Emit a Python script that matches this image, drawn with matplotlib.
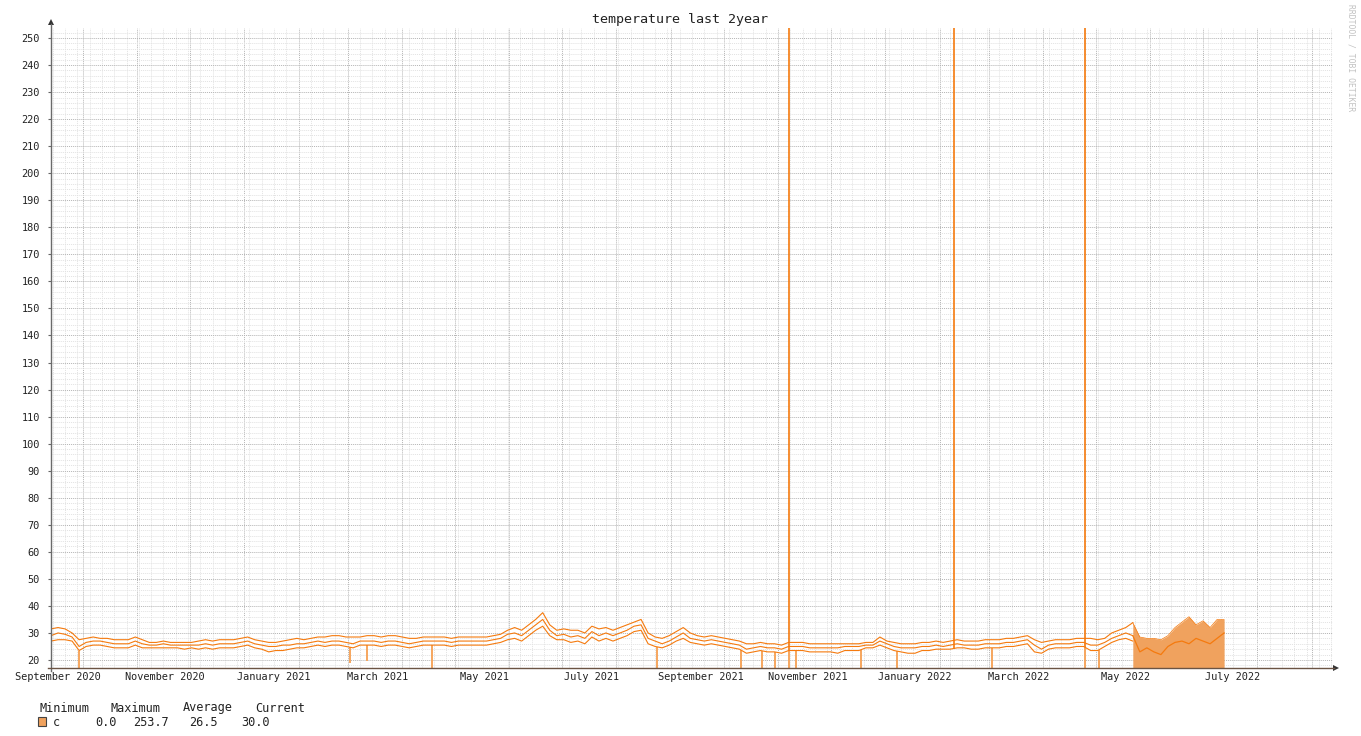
import numpy as np
import matplotlib
matplotlib.use("Agg")
import matplotlib.pyplot as plt
import matplotlib.dates as mdates
from matplotlib.lines import Line2D
from matplotlib.patches import Polygon, Rectangle

# ---------------- data ----------------
title = "temperature last 2year"
series_start = "2020-09-13"      # first sample, 4-day spacing
step_days = 4

mid = [29, 30, 29.5, 28.5, 25, 26.5, 27, 27, 26.5, 26,
       26, 26, 27, 26, 25.5, 25.5, 26, 25.5, 25.5, 25.5,
       25.5, 25.5, 26, 25.5, 26, 26, 26, 26.5, 27, 26,
       25.5, 25, 25, 25.5, 25.5, 26, 26, 26.5, 27, 26.5,
       27, 27, 26.5, 26, 27, 27, 27, 26.5, 27, 27,
       26.5, 26, 26.5, 27, 27, 27, 27, 26.5, 27, 27,
       27, 27, 27, 27.5, 28, 29.5, 30, 29, 31, 33,
       35, 31, 29, 29.5, 28.5, 29, 28, 30.5, 29, 30,
       29, 30, 31, 32.5, 33, 28, 27, 26, 27, 28.5,
       30, 28, 27.5, 27, 27.5, 27, 26.5, 26, 25.5, 24,
       24.5, 25, 24.5, 24.5, 24, 25, 25, 25, 24.5, 24.5,
       24.5, 24.5, 24.5, 25, 25, 25, 25.5, 25.5, 27, 26,
       25, 24.5, 24.5, 24.5, 25, 25, 25.5, 25, 25.5, 26,
       25.5, 25.5, 25.5, 26, 26, 26, 26.5, 26.5, 27, 27.5,
       25.5, 24, 25.5, 26, 26, 26, 26.5, 26.5, 25.5, 25.5,
       26.5, 28, 29, 30, 29, 23, 24.5, 23, 22, 25,
       26.5, 27, 26, 28, 27, 26, 28, 30]

upper = [31.5, 32, 31.5, 30, 27.5, 28, 28.5, 28, 28, 27.5,
         27.5, 27.5, 28.5, 27.5, 26.5, 26.5, 27, 26.5, 26.5, 26.5,
         26.5, 27, 27.5, 27, 27.5, 27.5, 27.5, 28, 28.5, 27.5,
         27, 26.5, 26.5, 27, 27.5, 28, 27.5, 28, 28.5, 28.5,
         29, 29, 28.5, 28.5, 28.5, 29, 29, 28.5, 29, 29,
         28.5, 28, 28, 28.5, 28.5, 28.5, 28.5, 28, 28.5, 28.5,
         28.5, 28.5, 28.5, 29, 29.5, 31, 32, 31, 33, 35,
         37.5, 33, 31, 31.5, 31, 31, 30, 32.5, 31.5, 32,
         31, 32, 33, 34, 35, 30, 28.5, 28, 29, 30.5,
         32, 30, 29, 28.5, 29, 28.5, 28, 27.5, 27, 26,
         26, 26.5, 26, 26, 25.5, 26.5, 26.5, 26.5, 26, 26,
         26, 26, 26, 26, 26, 26, 26.5, 26.5, 28.5, 27,
         26.5, 26, 26, 26, 26.5, 26.5, 27, 26.5, 27, 27.5,
         27, 27, 27, 27.5, 27.5, 27.5, 28, 28, 28.5, 29,
         27.5, 26.5, 27, 27.5, 27.5, 27.5, 28, 28, 28, 27.5,
         28, 30, 31, 32, 33.8, 28.5, 28, 28, 27.5, 29,
         32, 34, 36, 33, 34.5, 32, 35, 35]

lower = [27, 27.5, 27.5, 27, 23.5, 25, 25.5, 25.5, 25, 24.5,
         24.5, 24.5, 25.5, 24.5, 24.5, 24.5, 24.5, 24.5, 24.5, 24,
         24.5, 24, 24.5, 24, 24.5, 24.5, 24.5, 25, 25.5, 24.5,
         24, 23, 23.5, 23.5, 24, 24.5, 24.5, 25, 25.5, 25,
         25.5, 25.5, 25, 24.5, 25.5, 25.5, 25.5, 25, 25.5, 25.5,
         25, 24.5, 25, 25.5, 25.5, 25.5, 25.5, 25, 25.5, 25.5,
         25.5, 25.5, 25.5, 26, 26.5, 27.5, 28, 27, 29, 31,
         32.5, 29, 27.5, 27.5, 26.5, 27, 26, 28.5, 27, 28,
         27, 28, 29, 30.5, 31, 26, 25, 24.5, 25.5, 27,
         28, 26.5, 26, 25.5, 26, 25.5, 25, 24.5, 24, 22.5,
         23, 23.5, 23, 23, 22.5, 23.5, 23.5, 23.5, 23, 23,
         23, 23, 22.5, 23.5, 23.5, 23.5, 24.5, 24.5, 25.5, 24.5,
         23.5, 23, 22.5, 22.5, 23.5, 23.5, 24, 24, 24, 24.5,
         24.5, 24, 24, 24.5, 24.5, 24.5, 25, 25, 25.5, 26,
         23, 22.5, 24, 24.5, 24.5, 24.5, 25, 25, 23.5, 23.5,
         25, 26.5, 27.5, 28, 27, 21, 22.5, 21.5, 21, 22.5,
         23.5, 25, 25, 25, 26, 24.5, 26, 28]

area_from_index = 154          # samples drawn as filled area from here on

spike_dates = ["2021-11-07", "2022-02-09", "2022-04-25"]
spike_values = [253.7, 253.7, 253.7]

dip_dates = ["2020-09-29", "2021-03-02", "2021-03-12", "2021-04-18", "2021-08-24",
             "2021-10-11", "2021-10-23", "2021-10-30", "2021-11-07", "2021-11-11",
             "2021-12-18", "2022-01-08", "2022-03-03", "2022-04-25", "2022-05-03"]
dip_values = [0, 19, 19.5, 0, 0, 0, 0, 0, 0, 0, 0, 0, 0, 0, 0]

x_start, x_end = "2020-09-13", "2022-09-13"
y_min, y_max = 17.04, 253.7
label_months = ["2020-09-17", "2020-11-17", "2021-01-18", "2021-03-18", "2021-05-18",
                "2021-07-18", "2021-09-18", "2021-11-18", "2022-01-18", "2022-03-18",
                "2022-05-18", "2022-07-18"]
label_texts = ["September 2020", "November 2020", "January 2021", "March 2021",
               "May 2021", "July 2021", "September 2021", "November 2021",
               "January 2022", "March 2022", "May 2022", "July 2022"]

legend_header = ["Minimum", "Maximum", "Average", "Current"]
legend_name = "c"
legend_stats = ["0.0", "253.7", "26.5", "30.0"]

# ---------------- style ----------------
W, H = 1361, 736
MONO = "DejaVu Sans Mono"
line_c = "#F57A0E"
dip_c = "#F6A65E"
area_c = "#F0A25E"
major_c = "#b4b4b4"
minor_c = "#e2e2e2"

def fx(px):
    return px / W

def fy(py):
    return 1 - py / H

fig = plt.figure(figsize=(W / 100, H / 100), dpi=100)
fig.patch.set_facecolor("white")
ax = fig.add_axes([fx(51), (H - 668) / H, 1282 / W, 640 / H])
ax.set_facecolor("white")

xd = mdates.date2num(np.datetime64(series_start) +
                     np.arange(len(mid)) * np.timedelta64(step_days, "D"))
mid_a, up_a, lo_a = np.array(mid), np.array(upper), np.array(lower)

ax.set_xlim(mdates.date2num(np.datetime64(x_start)), mdates.date2num(np.datetime64(x_end)))
ax.set_ylim(y_min, y_max)

# grid
ax.set_yticks(np.arange(20, 251, 10))
ax.set_yticks(np.arange(18, 254, 2), minor=True)
ax.xaxis.set_major_locator(mdates.MonthLocator())
ax.xaxis.set_minor_locator(mdates.WeekdayLocator(byweekday=mdates.MO))
ax.xaxis.set_major_formatter(plt.NullFormatter())
ax.grid(which="minor", color=minor_c, lw=0.7, linestyle=(0, (1, 1)), zorder=0)
ax.grid(which="major", color=major_c, lw=0.7, linestyle=(0, (1, 1)), zorder=0)
ax.set_axisbelow(True)
ax.tick_params(axis="x", which="both", length=0)
ax.tick_params(axis="y", which="major", length=2, color="#666", pad=6,
               labelsize=7.4, labelcolor="#222")
ax.tick_params(axis="y", which="minor", length=0)
for lab in ax.get_yticklabels():
    lab.set_family(MONO)
ax.yaxis.set_major_formatter(plt.FuncFormatter(lambda v, p: f"{int(v)}"))

for s in ax.spines.values():
    s.set_visible(False)

# data lines (before area)
n = area_from_index + 1
for arr in (lo_a, mid_a, up_a):
    ax.plot(xd[:n], arr[:n], color=line_c, lw=0.8, zorder=3)

# dips and spikes
dx = mdates.date2num(np.array(dip_dates, dtype="datetime64[D]"))
ax.vlines(dx, dip_values, np.interp(dx, xd, lo_a), color=dip_c, lw=1.4, zorder=2)
sx = mdates.date2num(np.array(spike_dates, dtype="datetime64[D]"))
ax.vlines(sx, np.interp(sx, xd, lo_a), spike_values, color=line_c, lw=1.2, zorder=4)

# filled area at the end
k = area_from_index
ax.fill_between(xd[k:], y_min, up_a[k:], color=area_c, lw=0, zorder=3)
ax.plot(xd[k:], up_a[k:], color=line_c, lw=0.5, zorder=4)
ax.plot(xd[k:], mid_a[k:], color=line_c, lw=0.9, zorder=4)

# x labels centred in their month
for d, t in zip(label_months, label_texts):
    ax.text(mdates.date2num(np.datetime64(d)), -9 / 640, t, transform=ax.get_xaxis_transform(),
            ha="center", va="center", fontsize=7.4, family=MONO, color="#222")

# axes with arrows
fig.add_artist(Line2D([fx(51), fx(51)], [fy(671), fy(24)], color="#6a6a6a", lw=1.0))
fig.add_artist(Polygon([[fx(48), fy(25)], [fx(54), fy(25)], [fx(51), fy(19)]],
                       closed=True, color="#333", lw=0))
fig.add_artist(Line2D([fx(48), fx(1334)], [fy(668), fy(668)], color="#6b5444", lw=1.0))
fig.add_artist(Polygon([[fx(1333), fy(665)], [fx(1333), fy(671)], [fx(1339), fy(668)]],
                       closed=True, color="#333", lw=0))

# title and watermark
fig.text(0.5, fy(19), title, ha="center", va="center", fontsize=9.6, family=MONO, color="#222")
fig.text(fx(1351), fy(4), "RRDTOOL / TOBI OETIKER", rotation=270, ha="center", va="top",
         fontsize=5.8, family=MONO, color="#c2c2c2")

# legend
for x0, t in zip([39, 111, 183, 255], legend_header):
    fig.text(fx(x0), fy(708), t, ha="left", va="center", fontsize=8.6, family=MONO, color="#222")
fig.add_artist(Rectangle((fx(38), fy(726)), 8 / W, 9 / H, facecolor=area_c,
                         edgecolor="#444", lw=0.8, transform=fig.transFigure))
fig.text(fx(53), fy(722), legend_name, ha="left", va="center", fontsize=8.6, family=MONO, color="#222")
for x1, t in zip([117, 169, 218, 270], legend_stats):
    fig.text(fx(x1), fy(722), t, ha="right", va="center", fontsize=8.6, family=MONO, color="#222")

fig.savefig("out.png", dpi=100, facecolor="white")
